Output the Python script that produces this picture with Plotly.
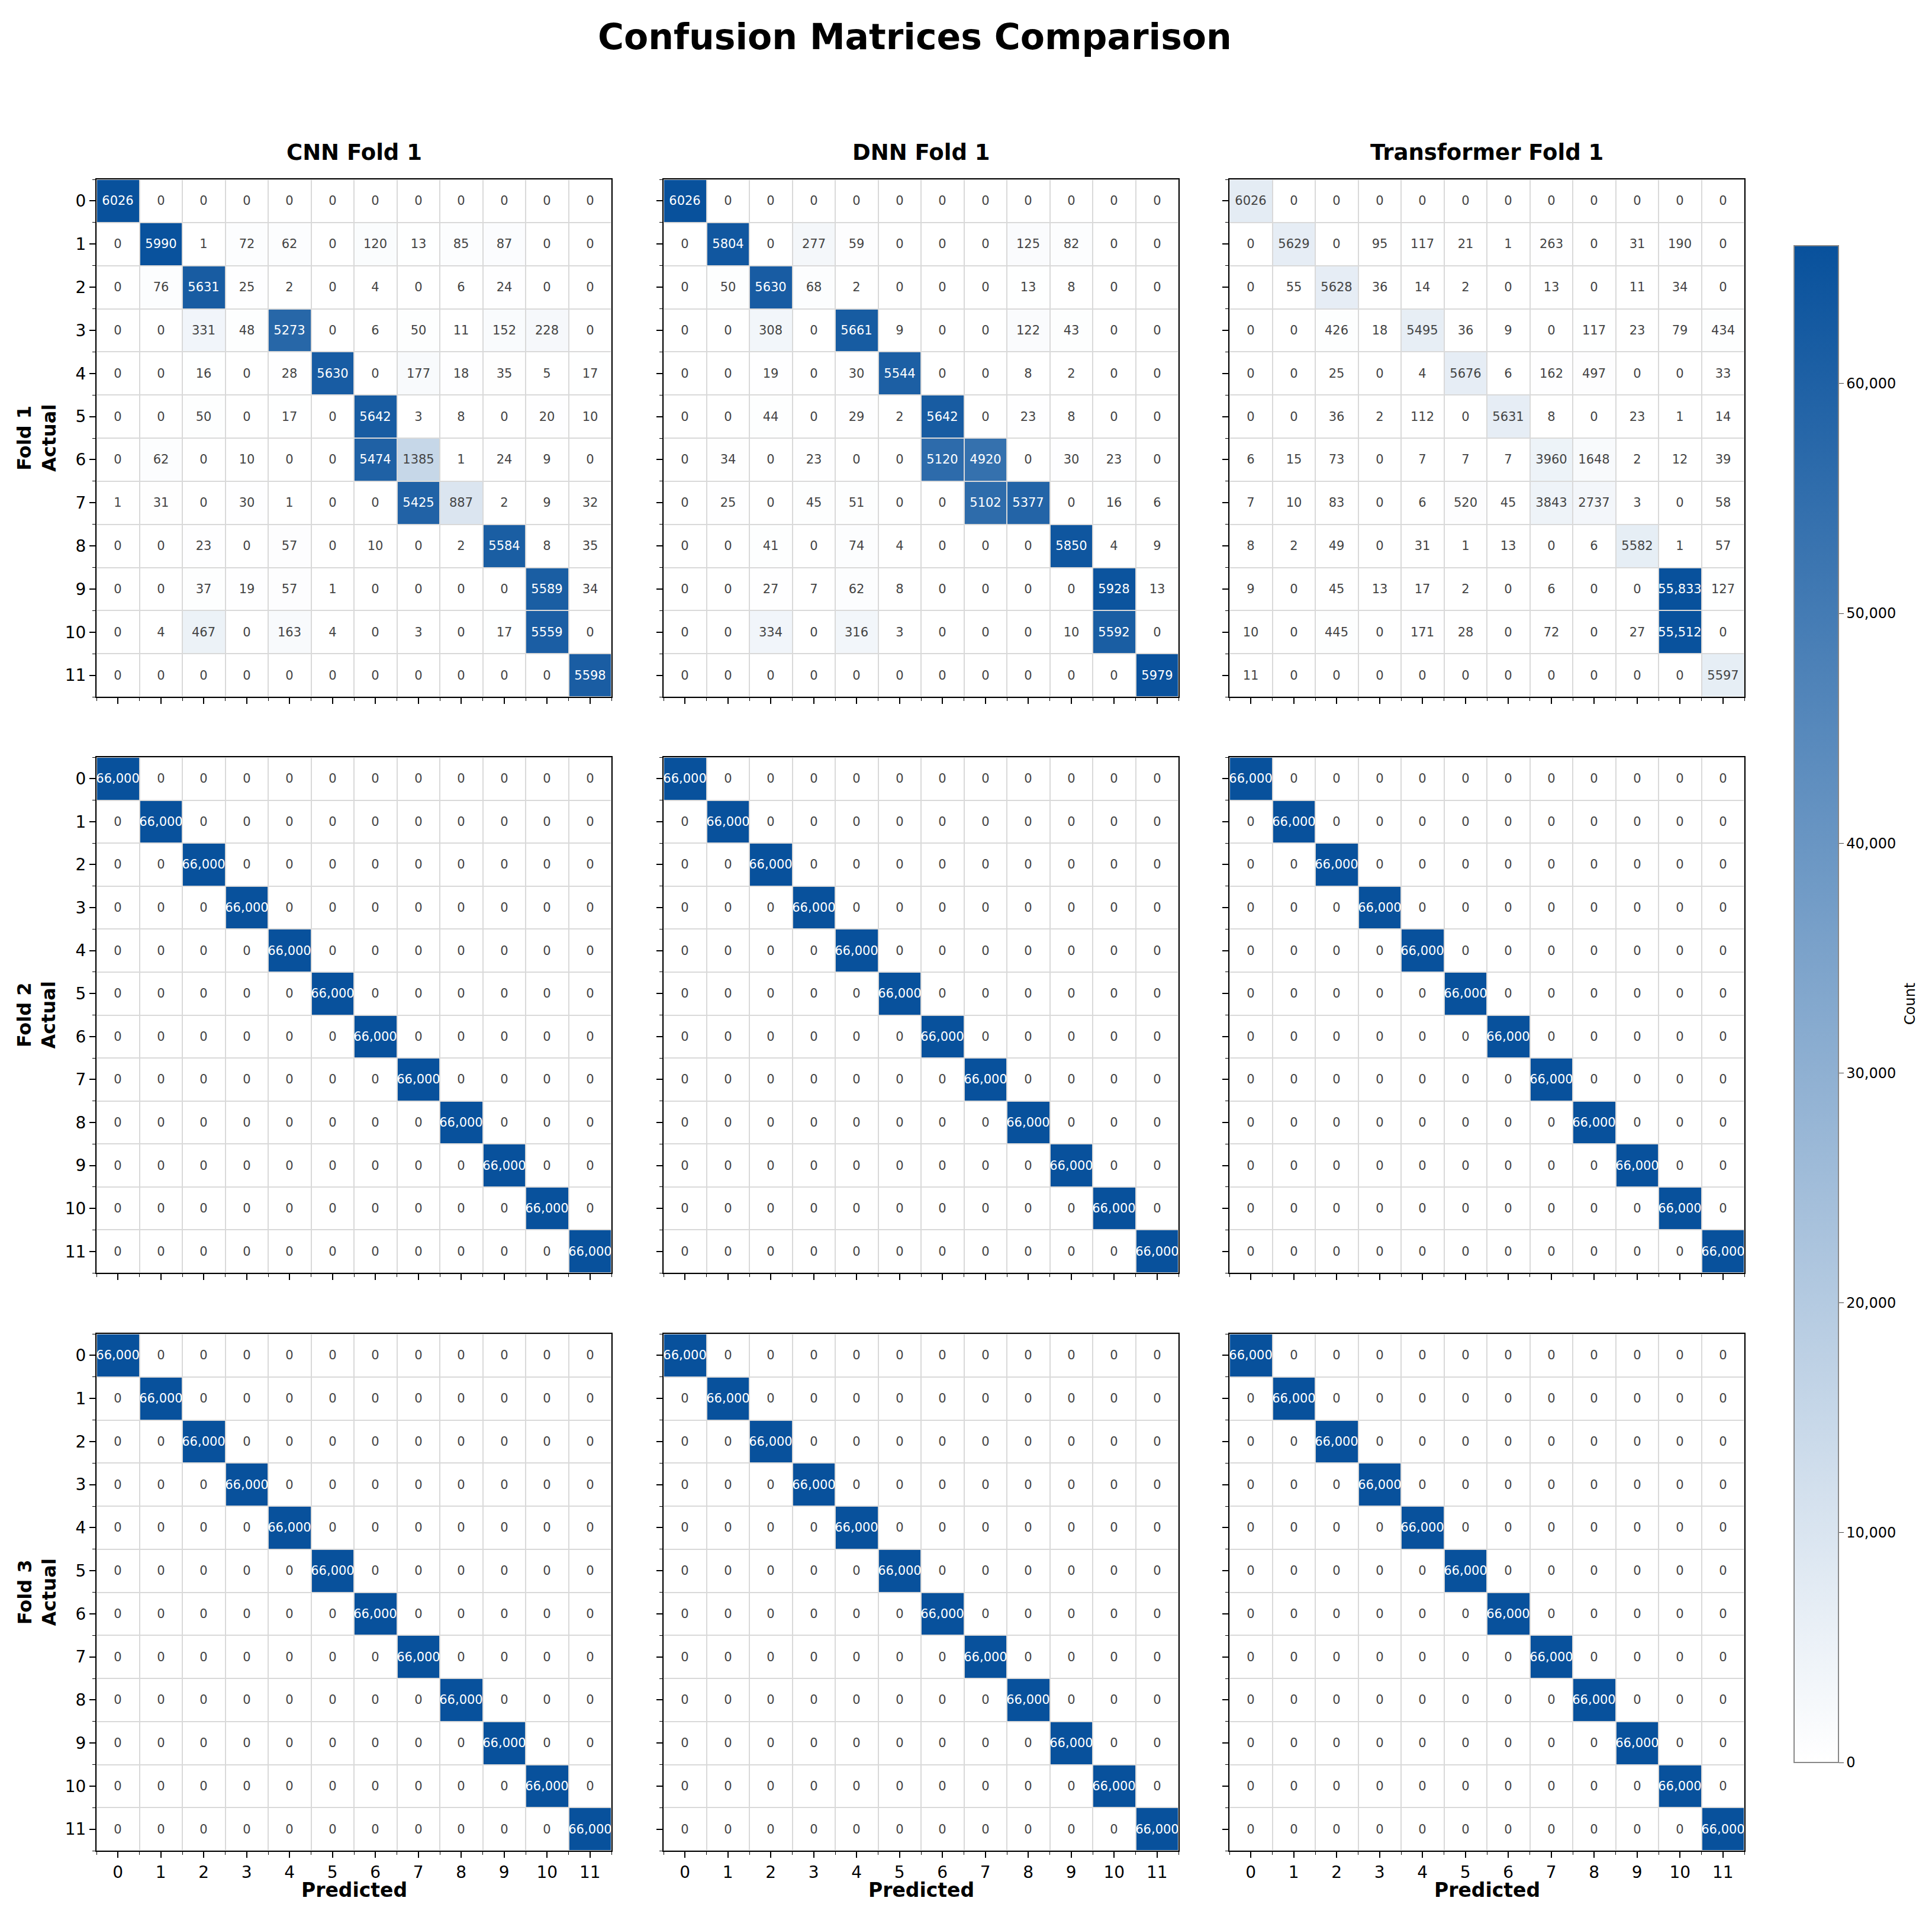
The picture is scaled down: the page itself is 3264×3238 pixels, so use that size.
import numpy as np
import plotly.graph_objects as go

# ---------------- data ----------------
class_labels = [str(i) for i in range(12)]
model_names = ["CNN", "DNN", "Transformer"]
fold_names = ["Fold 1", "Fold 2", "Fold 3"]

cnn_fold1 = [
    [6026, 0, 0, 0, 0, 0, 0, 0, 0, 0, 0, 0],
    [0, 5990, 1, 72, 62, 0, 120, 13, 85, 87, 0, 0],
    [0, 76, 5631, 25, 2, 0, 4, 0, 6, 24, 0, 0],
    [0, 0, 331, 48, 5273, 0, 6, 50, 11, 152, 228, 0],
    [0, 0, 16, 0, 28, 5630, 0, 177, 18, 35, 5, 17],
    [0, 0, 50, 0, 17, 0, 5642, 3, 8, 0, 20, 10],
    [0, 62, 0, 10, 0, 0, 5474, 1385, 1, 24, 9, 0],
    [1, 31, 0, 30, 1, 0, 0, 5425, 887, 2, 9, 32],
    [0, 0, 23, 0, 57, 0, 10, 0, 2, 5584, 8, 35],
    [0, 0, 37, 19, 57, 1, 0, 0, 0, 0, 5589, 34],
    [0, 4, 467, 0, 163, 4, 0, 3, 0, 17, 5559, 0],
    [0, 0, 0, 0, 0, 0, 0, 0, 0, 0, 0, 5598],
]

dnn_fold1 = [
    [6026, 0, 0, 0, 0, 0, 0, 0, 0, 0, 0, 0],
    [0, 5804, 0, 277, 59, 0, 0, 0, 125, 82, 0, 0],
    [0, 50, 5630, 68, 2, 0, 0, 0, 13, 8, 0, 0],
    [0, 0, 308, 0, 5661, 9, 0, 0, 122, 43, 0, 0],
    [0, 0, 19, 0, 30, 5544, 0, 0, 8, 2, 0, 0],
    [0, 0, 44, 0, 29, 2, 5642, 0, 23, 8, 0, 0],
    [0, 34, 0, 23, 0, 0, 5120, 4920, 0, 30, 23, 0],
    [0, 25, 0, 45, 51, 0, 0, 5102, 5377, 0, 16, 6],
    [0, 0, 41, 0, 74, 4, 0, 0, 0, 5850, 4, 9],
    [0, 0, 27, 7, 62, 8, 0, 0, 0, 0, 5928, 13],
    [0, 0, 334, 0, 316, 3, 0, 0, 0, 10, 5592, 0],
    [0, 0, 0, 0, 0, 0, 0, 0, 0, 0, 0, 5979],
]

transformer_fold1 = [
    [6026, 0, 0, 0, 0, 0, 0, 0, 0, 0, 0, 0],
    [0, 5629, 0, 95, 117, 21, 1, 263, 0, 31, 190, 0],
    [0, 55, 5628, 36, 14, 2, 0, 13, 0, 11, 34, 0],
    [0, 0, 426, 18, 5495, 36, 9, 0, 117, 23, 79, 434],
    [0, 0, 25, 0, 4, 5676, 6, 162, 497, 0, 0, 33],
    [0, 0, 36, 2, 112, 0, 5631, 8, 0, 23, 1, 14],
    [6, 15, 73, 0, 7, 7, 7, 3960, 1648, 2, 12, 39],
    [7, 10, 83, 0, 6, 520, 45, 3843, 2737, 3, 0, 58],
    [8, 2, 49, 0, 31, 1, 13, 0, 6, 5582, 1, 57],
    [9, 0, 45, 13, 17, 2, 0, 6, 0, 0, 55833, 127],
    [10, 0, 445, 0, 171, 28, 0, 72, 0, 27, 55512, 0],
    [11, 0, 0, 0, 0, 0, 0, 0, 0, 0, 0, 5597],
]

# Folds 2 and 3: every class perfectly classified (diagonal counts, zeros elsewhere)
cnn_fold2_diag = [66000, 66000, 66000, 66000, 66000, 66000, 66000, 66000, 66000, 66000, 66000, 66000]
dnn_fold2_diag = [66000, 66000, 66000, 66000, 66000, 66000, 66000, 66000, 66000, 66000, 66000, 66000]
transformer_fold2_diag = [66000, 66000, 66000, 66000, 66000, 66000, 66000, 66000, 66000, 66000, 66000, 66000]
cnn_fold3_diag = [66000, 66000, 66000, 66000, 66000, 66000, 66000, 66000, 66000, 66000, 66000, 66000]
dnn_fold3_diag = [66000, 66000, 66000, 66000, 66000, 66000, 66000, 66000, 66000, 66000, 66000, 66000]
transformer_fold3_diag = [66000, 66000, 66000, 66000, 66000, 66000, 66000, 66000, 66000, 66000, 66000, 66000]

colorbar_ticks = [0, 10000, 20000, 30000, 40000, 50000, 60000]
colorbar_range_max = 66000

matrices = [
    [np.array(cnn_fold1), np.array(dnn_fold1), np.array(transformer_fold1)],
    [np.diag(cnn_fold2_diag), np.diag(dnn_fold2_diag), np.diag(transformer_fold2_diag)],
    [np.diag(cnn_fold3_diag), np.diag(dnn_fold3_diag), np.diag(transformer_fold3_diag)],
]

# ---------------- layout geometry (page pixels) ----------------
W, H = 3248, 3222
OFF = 8


def fx(p):
    return (p - OFF) / W


def fy(p):
    return 1 - (p - OFF) / H


col_px = [(163, 1033), (1121, 1991), (2077, 2947)]
row_px = [(303, 1177), (1279, 2150), (2253, 3126)]
cbar_top, cbar_bottom = 405, 2987

FONT = "DejaVu Sans"
scale = [[0, "#ffffff"], [1, "rgb(8,81,156)"]]


def fmt(v):
    v = int(v)
    return f"{v:,}" if v >= 10000 else str(v)


fig = go.Figure()
annotations = []
n = len(class_labels)
idx = list(range(n))

for i in range(3):
    for j in range(3):
        k = i * 3 + j + 1
        xa = "x" if k == 1 else f"x{k}"
        ya = "y" if k == 1 else f"y{k}"
        z = matrices[i][j]
        text = [[fmt(v) for v in r] for r in z]
        show = (i == 1 and j == 0)
        trace = go.Heatmap(
            z=z, x=idx, y=idx, text=text, texttemplate="%{text}",
            textfont=dict(size=21, family=FONT),
            colorscale=scale, zmin=0, zmax=float(z.max()),
            xgap=2, ygap=2, xaxis=xa, yaxis=ya, showscale=show,
            hovertemplate="Actual %{y}<br>Predicted %{x}<br>%{z}<extra></extra>",
        )
        if show:
            trace.update(
                zmax=colorbar_range_max,
                colorbar=dict(
                    x=fx(3021), xanchor="left",
                    y=fy((cbar_top + cbar_bottom) / 2), yanchor="middle",
                    len=(cbar_bottom - cbar_top) / H, lenmode="fraction", thickness=75,
                    tickmode="array", tickvals=colorbar_ticks,
                    ticktext=[f"{t:,}" for t in colorbar_ticks],
                    tickfont=dict(size=24, family=FONT, color="black"),
                    ticks="outside", ticklen=8, outlinewidth=2, outlinecolor="#888888",
                ),
            )
        fig.add_trace(trace)
        axis_common = dict(
            tickmode="array", tickvals=idx, ticktext=class_labels,
            ticks="outside", ticklen=10, tickwidth=2, tickcolor="black",
            showline=True, mirror=True, linecolor="black", linewidth=2,
            showgrid=False, zeroline=False,
            tickfont=dict(size=28, family=FONT, color="black"),
            minor=dict(tickmode="array", tickvals=[t - 0.5 for t in range(n + 1)],
                       ticks="outside", ticklen=5, tickwidth=1, tickcolor="black",
                       showgrid=False),
        )
        fig.layout[f"xaxis{'' if k == 1 else k}"] = dict(
            axis_common, domain=[fx(col_px[j][0]), fx(col_px[j][1])], anchor=ya,
            range=[-0.5, n - 0.5], showticklabels=(i == 2),
        )
        fig.layout[f"yaxis{'' if k == 1 else k}"] = dict(
            axis_common, domain=[fy(row_px[i][1]), fy(row_px[i][0])], anchor=xa,
            range=[n - 0.5, -0.5], showticklabels=(j == 0),
        )

# titles
annotations.append(dict(text="<b>Confusion Matrices Comparison</b>", x=fx(1545), y=fy(62),
                        xref="paper", yref="paper", showarrow=False,
                        font=dict(size=60, family=FONT, color="black"),
                        xanchor="center", yanchor="middle"))
for j, m in enumerate(model_names):
    cx = (col_px[j][0] + col_px[j][1]) / 2
    annotations.append(dict(text=f"<b>{m} {fold_names[0]}</b>", x=fx(cx), y=fy(258),
                            xref="paper", yref="paper", showarrow=False,
                            font=dict(size=37, family=FONT, color="black"),
                            xanchor="center", yanchor="middle"))
    annotations.append(dict(text="<b>Predicted</b>", x=fx(cx), y=fy(3192),
                            xref="paper", yref="paper", showarrow=False,
                            font=dict(size=33, family=FONT, color="black"),
                            xanchor="center", yanchor="middle"))
for i, f in enumerate(fold_names):
    cy = (row_px[i][0] + row_px[i][1]) / 2
    annotations.append(dict(text=f"<b>{f}<br>Actual</b>", x=fx(62), y=fy(cy),
                            xref="paper", yref="paper", showarrow=False, textangle=-90,
                            font=dict(size=32, family=FONT, color="black"),
                            xanchor="center", yanchor="middle"))
annotations.append(dict(text="Count", x=fx(3227), y=fy((cbar_top + cbar_bottom) / 2),
                        xref="paper", yref="paper",
                        showarrow=False, textangle=-90,
                        font=dict(size=24, family=FONT, color="black"),
                        xanchor="center", yanchor="middle"))

fig.update_layout(
    width=W, height=H, margin=dict(l=0, r=0, t=0, b=0),
    paper_bgcolor="white", plot_bgcolor="#d9d9d9",
    font=dict(family=FONT, color="black"),
    annotations=annotations, showlegend=False,
)

fig.write_html("out.html")
